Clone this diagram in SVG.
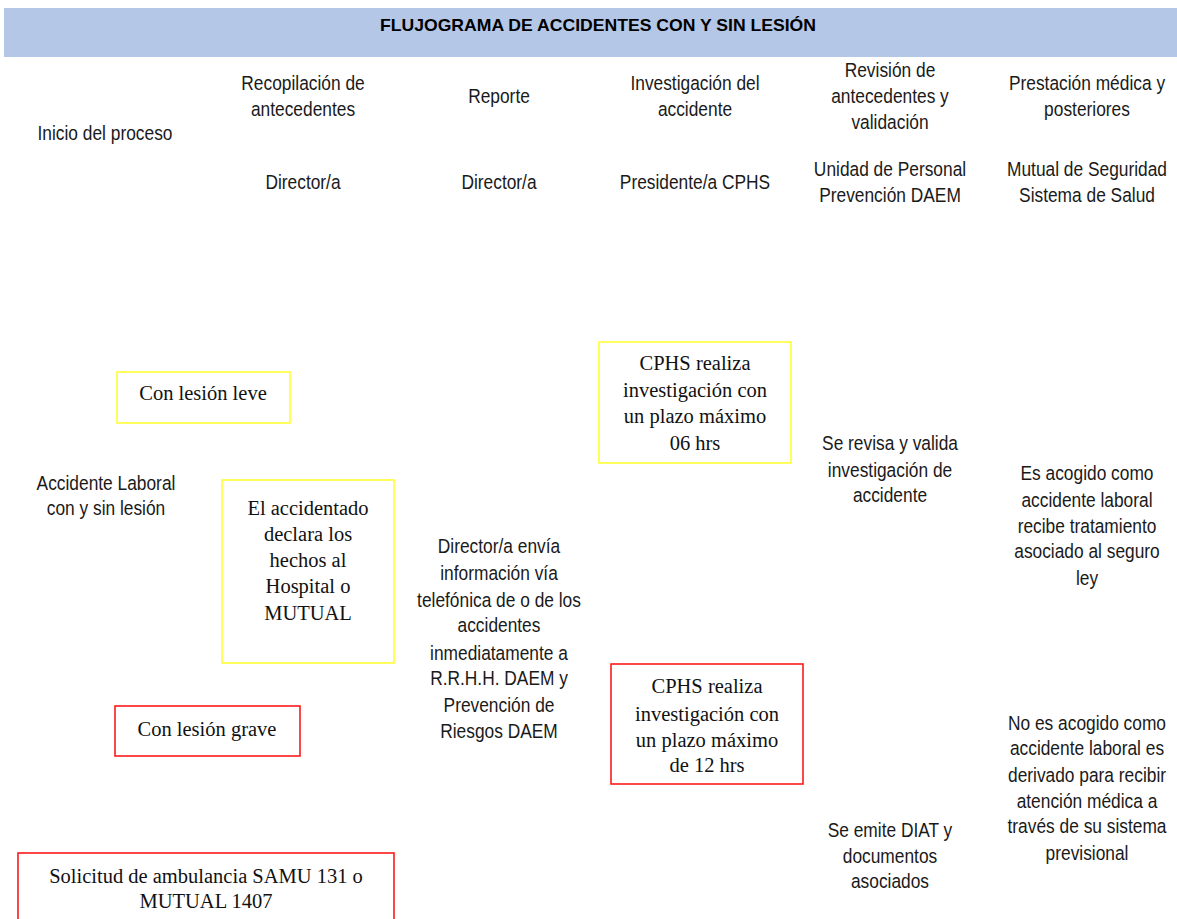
<svg xmlns="http://www.w3.org/2000/svg" width="1177" height="919" viewBox="0 0 1177 919">
<style>
.band{fill:#B4C7E7}
.title{font-family:"Liberation Sans",Arial,sans-serif;font-weight:bold;font-size:17px;fill:#000;text-anchor:middle}
.sans{font-family:"Liberation Sans",Arial,sans-serif;font-size:19.5px;fill:#1a1a1a;text-anchor:middle}
.serif{font-family:"Liberation Serif","Times New Roman",serif;font-size:20.5px;fill:#111;text-anchor:middle}
.yel{fill:#fff;stroke:#FFFF33;stroke-width:1.6}
.red{fill:#fff;stroke:#FF1A1A;stroke-width:1.6}
</style>
<rect width="1177" height="919" fill="#fff"/>
<g id="header">
<rect class="band" x="4" y="8" width="1173" height="49"/>
<text class="title" x="598" y="31" textLength="436" lengthAdjust="spacingAndGlyphs">FLUJOGRAMA DE ACCIDENTES CON Y SIN LESIÓN</text>
</g>
<g id="col-headers">
<text class="sans" transform="translate(105 0) scale(0.89 1)"><tspan x="0" y="140">Inicio del proceso</tspan></text>
<text class="sans" transform="translate(303 0) scale(0.89 1)"><tspan x="0" y="90">Recopilación de</tspan><tspan x="0" y="116">antecedentes</tspan></text>
<text class="sans" transform="translate(499 0) scale(0.89 1)"><tspan x="0" y="103">Reporte</tspan></text>
<text class="sans" transform="translate(695 0) scale(0.89 1)"><tspan x="0" y="90">Investigación del</tspan><tspan x="0" y="116">accidente</tspan></text>
<text class="sans" transform="translate(890 0) scale(0.89 1)"><tspan x="0" y="77">Revisión de</tspan><tspan x="0" y="103">antecedentes y</tspan><tspan x="0" y="129">validación</tspan></text>
<text class="sans" transform="translate(1087 0) scale(0.89 1)"><tspan x="0" y="90">Prestación médica y</tspan><tspan x="0" y="116">posteriores</tspan></text>
</g>
<g id="roles">
<text class="sans" transform="translate(303 0) scale(0.89 1)"><tspan x="0" y="189">Director/a</tspan></text>
<text class="sans" transform="translate(499 0) scale(0.89 1)"><tspan x="0" y="189">Director/a</tspan></text>
<text class="sans" transform="translate(695 0) scale(0.89 1)"><tspan x="0" y="189">Presidente/a CPHS</tspan></text>
<text class="sans" transform="translate(890 0) scale(0.89 1)"><tspan x="0" y="176">Unidad de Personal</tspan><tspan x="0" y="202">Prevención DAEM</tspan></text>
<text class="sans" transform="translate(1087 0) scale(0.89 1)"><tspan x="0" y="176">Mutual de Seguridad</tspan><tspan x="0" y="202">Sistema de Salud</tspan></text>
</g>
<g id="connectors"></g>
<g id="accidente">
<text class="sans" transform="translate(106 0) scale(0.89 1)"><tspan x="0" y="490">Accidente Laboral</tspan><tspan x="0" y="515">con y sin lesión</tspan></text>
</g>
<g id="leve">
<rect class="yel" x="117" y="372" width="173" height="51"/>
<text class="serif" x="203" y="400">Con lesión leve</text>
</g>
<g id="declara">
<rect class="yel" x="222" y="480" width="172" height="183"/>
<text class="serif"><tspan x="308" y="515">El accidentado</tspan><tspan x="308" y="541">declara los</tspan><tspan x="308" y="567">hechos al</tspan><tspan x="308" y="593">Hospital o</tspan><tspan x="308" y="620">MUTUAL</tspan></text>
</g>
<g id="grave">
<rect class="red" x="115" y="706" width="185" height="50"/>
<text class="serif" x="207" y="736">Con lesión grave</text>
</g>
<g id="ambulancia">
<rect class="red" x="18" y="853" width="376" height="80"/>
<text class="serif"><tspan x="206" y="883">Solicitud de ambulancia SAMU 131 o</tspan><tspan x="206" y="908">MUTUAL 1407</tspan></text>
</g>
<g id="reporte">
<text class="sans" transform="translate(499 0) scale(0.89 1)"><tspan x="0" y="553">Director/a envía</tspan><tspan x="0" y="580">información vía</tspan><tspan x="0" y="607">telefónica de o de los</tspan><tspan x="0" y="632">accidentes</tspan><tspan x="0" y="660">inmediatamente a</tspan><tspan x="0" y="685">R.R.H.H. DAEM y</tspan><tspan x="0" y="712">Prevención de</tspan><tspan x="0" y="738">Riesgos DAEM</tspan></text>
</g>
<g id="cphs06">
<rect class="yel" x="599" y="342" width="192" height="121"/>
<text class="serif"><tspan x="695" y="370">CPHS realiza</tspan><tspan x="695" y="397">investigación con</tspan><tspan x="695" y="423">un plazo máximo</tspan><tspan x="695" y="450">06 hrs</tspan></text>
</g>
<g id="cphs12">
<rect class="red" x="611" y="664" width="192" height="120"/>
<text class="serif"><tspan x="707" y="693">CPHS realiza</tspan><tspan x="707" y="721">investigación con</tspan><tspan x="707" y="747">un plazo máximo</tspan><tspan x="707" y="772">de 12 hrs</tspan></text>
</g>
<g id="valida">
<text class="sans" transform="translate(890 0) scale(0.89 1)"><tspan x="0" y="450">Se revisa y valida</tspan><tspan x="0" y="477">investigación de</tspan><tspan x="0" y="502">accidente</tspan></text>
</g>
<g id="diat">
<text class="sans" transform="translate(890 0) scale(0.89 1)"><tspan x="0" y="837">Se emite DIAT y</tspan><tspan x="0" y="863">documentos</tspan><tspan x="0" y="888">asociados</tspan></text>
</g>
<g id="acogido">
<text class="sans" transform="translate(1087 0) scale(0.89 1)"><tspan x="0" y="480">Es acogido como</tspan><tspan x="0" y="507">accidente laboral</tspan><tspan x="0" y="533">recibe tratamiento</tspan><tspan x="0" y="558">asociado al seguro</tspan><tspan x="0" y="585">ley</tspan></text>
</g>
<g id="no-acogido">
<text class="sans" transform="translate(1087 0) scale(0.89 1)"><tspan x="0" y="730">No es acogido como</tspan><tspan x="0" y="755">accidente laboral es</tspan><tspan x="0" y="782">derivado para recibir</tspan><tspan x="0" y="808">atención médica a</tspan><tspan x="0" y="833">través de su sistema</tspan><tspan x="0" y="860">previsional</tspan></text>
</g>
</svg>
